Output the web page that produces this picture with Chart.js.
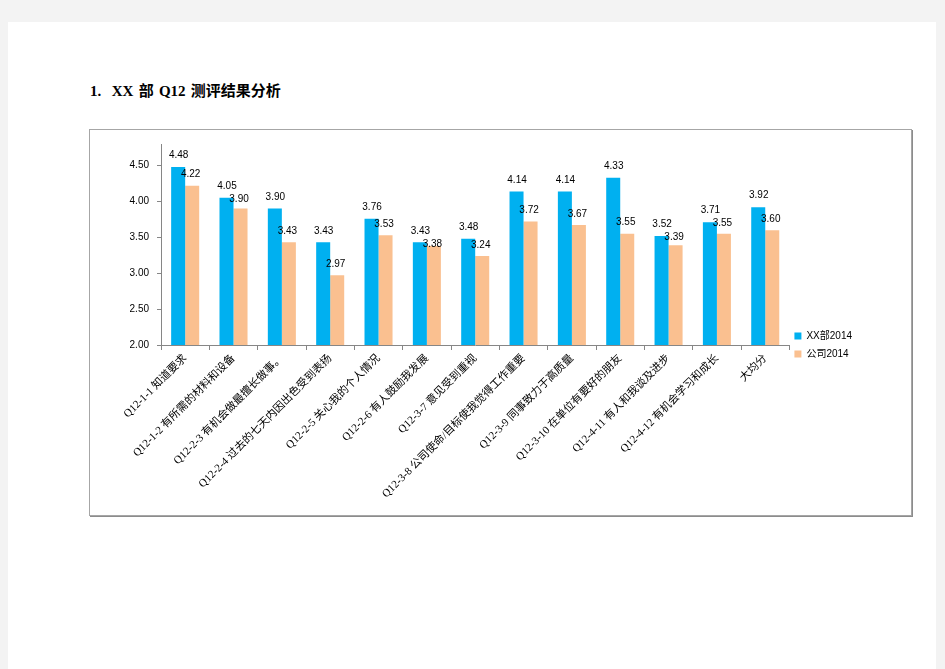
<!DOCTYPE html>
<html>
<head>
<meta charset="utf-8">
<script src="https://cdn.jsdelivr.net/npm/chart.js@4"></script>
<style>
  body { margin: 0; background: #f3f3f3; }
  .sheet { position: absolute; left: 8px; top: 22px; width: 928px; height: 660px; background: #fff; }
  h3 {
    position: absolute; left: 90px; top: 79px; margin: 0; word-spacing: 1.5px;
    font: bold 15px "Liberation Serif", "Noto Sans CJK SC", serif; color: #000;
  }
  .box {
    position: absolute; left: 89px; top: 129px; width: 823px; height: 387px;
    box-sizing: border-box; border: 1px solid #a6a6a6; box-shadow: 1px 1px 0 #8c8c8c;
    background: #fff;
  }
</style>
</head>
<body>
<div class="sheet"></div>
<h3>1.&nbsp;&nbsp;XX 部 Q12 测评结果分析</h3>
<div class="box"><canvas id="q12Chart" width="821" height="385"></canvas></div>
<script>
const categories = [
  "Q12-1-1 知道要求",
  "Q12-1-2 有所需的材料和设备",
  "Q12-2-3 有机会做最擅长做事。",
  "Q12-2-4 过去的七天内因出色受到表扬",
  "Q12-2-5 关心我的个人情况",
  "Q12-2-6 有人鼓励我发展",
  "Q12-3-7 意见受到重视",
  "Q12-3-8 公司使命/目标使我觉得工作重要",
  "Q12-3-9 同事致力于高质量",
  "Q12-3-10 在单位有要好的朋友",
  "Q12-4-11 有人和我谈及进步",
  "Q12-4-12 有机会学习和成长",
  "大均分"
];
const deptValues = [4.48, 4.05, 3.90, 3.43, 3.76, 3.43, 3.48, 4.14, 4.14, 4.33, 3.52, 3.71, 3.92];
const companyValues = [4.22, 3.90, 3.43, 2.97, 3.53, 3.38, 3.24, 3.72, 3.67, 3.55, 3.39, 3.55, 3.60];
const yTicks = [2.0, 2.5, 3.0, 3.5, 4.0, 4.5];

const sansFont = "'Liberation Sans', 'Noto Sans CJK SC', sans-serif";
const serifFont = "'Liberation Serif', 'Noto Sans CJK SC', serif";
const axisColor = "#868686";

// value labels above bars, second series pushed down when it would overlap the first
const valueLabels = {
  id: "valueLabels",
  afterDatasetsDraw(chart) {
    const ctx = chart.ctx;
    ctx.save();
    ctx.font = "10px " + sansFont;
    ctx.fillStyle = "#000";
    ctx.textAlign = "center";
    ctx.textBaseline = "middle";
    const first = chart.getDatasetMeta(0).data;
    const second = chart.getDatasetMeta(1).data;
    first.forEach((bar, i) => {
      const y1 = bar.y - 11.5;
      ctx.fillText(deptValues[i].toFixed(2), bar.x + 0.5, y1);
      const b2 = second[i];
      let y2 = b2.y - 11;
      if (y2 < y1 + 13) y2 = y1 + 13;
      ctx.fillText(companyValues[i].toFixed(2), b2.x - 1.5, y2);
    });
    ctx.restore();
  },
};

// legend sits near the x axis rather than at the bottom of the canvas
const legendShift = {
  id: "legendShift",
  afterLayout(chart) {
    const lg = chart.legend;
    lg.top -= 148; lg.bottom -= 148;
    lg.left -= 3; lg.right -= 3;
  },
};

new Chart(document.getElementById("q12Chart"), {
  type: "bar",
  data: {
    labels: categories,
    datasets: [
      {
        label: "XX部2014",
        data: deptValues,
        backgroundColor: "#00B0F0",
        barPercentage: 1,
        categoryPercentage: 0.58,
      },
      {
        label: "公司2014",
        data: companyValues,
        backgroundColor: "#FAC090",
        barPercentage: 1,
        categoryPercentage: 0.58,
      },
    ],
  },
  options: {
    responsive: false,
    animation: false,
    layout: { padding: { top: 11, right: 46, left: 0, bottom: 0 } },
    plugins: {
      legend: {
        position: "right",
        align: "end",
        labels: {
          boxWidth: 7,
          boxHeight: 7,
          padding: 8,
          color: "#000",
          font: { size: 10, family: sansFont },
        },
      },
      tooltip: { enabled: false },
    },
    scales: {
      x: {
        grid: {
          offset: true,
          drawOnChartArea: false,
          tickLength: 5,
          color: axisColor,
        },
        border: { color: axisColor },
        ticks: {
          autoSkip: false,
          maxRotation: 45,
          minRotation: 45,
          padding: 2,
          color: "#000",
          font: { size: 11, family: serifFont },
        },
        afterFit(scale) { scale.height = 170; },
      },
      y: {
        min: 2,
        max: 4.8,
        grid: {
          drawOnChartArea: false,
          tickLength: 4,
          color: axisColor,
        },
        border: { color: axisColor },
        ticks: {
          stepSize: 0.5,
          padding: 8,
          color: "#000",
          font: { size: 10, family: sansFont },
          callback: (v) => v.toFixed(2),
        },
        afterBuildTicks(scale) {
          scale.ticks = yTicks.map((v) => ({ value: v }));
        },
        afterFit(scale) { scale.width = 71; },
      },
    },
  },
  plugins: [valueLabels, legendShift],
});
</script>
</body>
</html>
